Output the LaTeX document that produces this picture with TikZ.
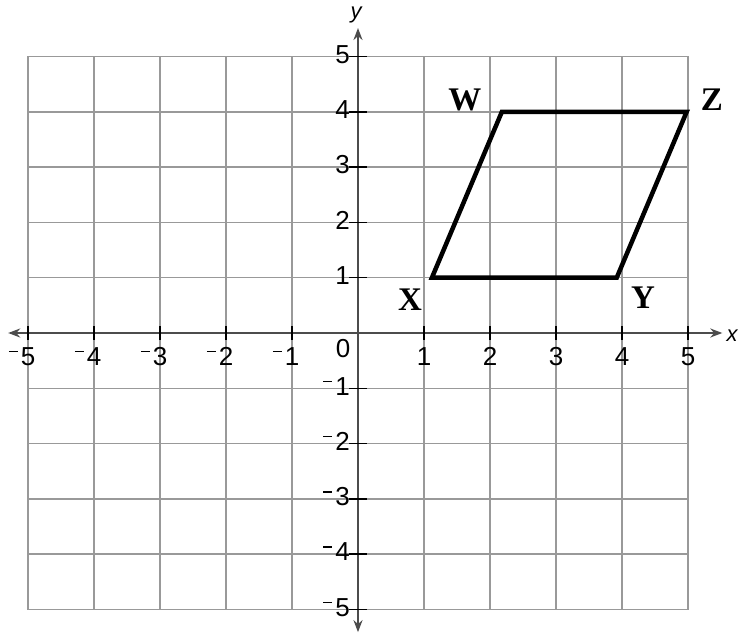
\documentclass[tikz,border=0pt]{standalone}
\usepackage{fontspec}
\setmainfont{Liberation Serif}
\setsansfont{Liberation Sans}
\usetikzlibrary{arrows.meta}
\begin{document}
\begin{tikzpicture}[x=66pt,y=55.3pt,
  gridline/.style={draw=black!40, line width=1.5pt},
  axisline/.style={draw=black!70, line width=2.5pt},
  tickmark/.style={draw=black, line width=1.5pt},
  num/.style={font=\sffamily\fontsize{26}{26}\selectfont, inner sep=0pt},
  vlabel/.style={font=\rmfamily\bfseries\fontsize{33}{33}\selectfont, inner sep=0pt},
  axlabel/.style={font=\sffamily\itshape\fontsize{22}{22}\selectfont, inner sep=0pt},
  quad/.style={draw=black, line width=4.5pt, line join=miter}]
\useasboundingbox (-5.4242,-5.4973) rectangle (5.8030,6.0217);
\fill[white] (-5.4242,-5.4973) rectangle (5.8030,6.0217);
% grid
\draw[gridline, step={(1,1)}] (-5,-5) grid (5,5);
% axes
\coordinate (xl) at (-5.30,0);
\coordinate (xr) at (5.52,0);
\coordinate (yb) at (0,-5.41);
\coordinate (yt) at (0,5.515);
\draw[axisline, {Stealth[length=12pt,width=9pt]}-{Stealth[length=12pt,width=9pt]}] (xl) -- (xr);
\draw[axisline, {Stealth[length=12pt,width=9pt]}-{Stealth[length=12pt,width=9pt]}] (yb) -- (yt);
\node[axlabel] (xlab) at (5.67,-0.04) {x};
\node[axlabel] (ylab) at (-0.03,5.75) {y};
% ticks and numbers
\foreach \i in {1,...,5}{
  \draw[tickmark] (\i,-0.12) -- (\i,0.12);
  \draw[tickmark] (-\i,-0.12) -- (-\i,0.12);
  \draw[tickmark] (-0.14,\i) -- (0.14,\i);
  \draw[tickmark] (-0.14,-\i) -- (0.14,-\i);
  \node[num] (xp\i) at (\i,-0.42) {\i};
  \node[num] (xn\i) at (-\i,-0.42) {\llap{\rule[13pt]{9pt}{1.5pt}\hspace{3pt}}\i};
  \node[num, anchor=east] (yp\i) at (-0.12,\i+0.04) {\i};
  \node[num, anchor=east] (yn\i) at (-0.12,-\i+0.04) {\llap{\rule[13pt]{9pt}{1.5pt}\hspace{3pt}}\i};
}
\node[num] (zero) at (-0.227,-0.29) {0};
% parallelogram
\coordinate (X) at (1.12,1);
\coordinate (Y) at (3.92,1);
\coordinate (Z) at (4.98,4);
\coordinate (W) at (2.18,4);
\draw[quad] (X) -- (Y) -- (Z) -- (W) -- cycle;
\node[vlabel] (lW) at (1.62,4.21) {W};
\node[vlabel] (lZ) at (5.36,4.21) {Z};
\node[vlabel] (lX) at (0.79,0.60) {X};
\node[vlabel] (lY) at (4.32,0.63) {Y};
\end{tikzpicture}
\end{document}
